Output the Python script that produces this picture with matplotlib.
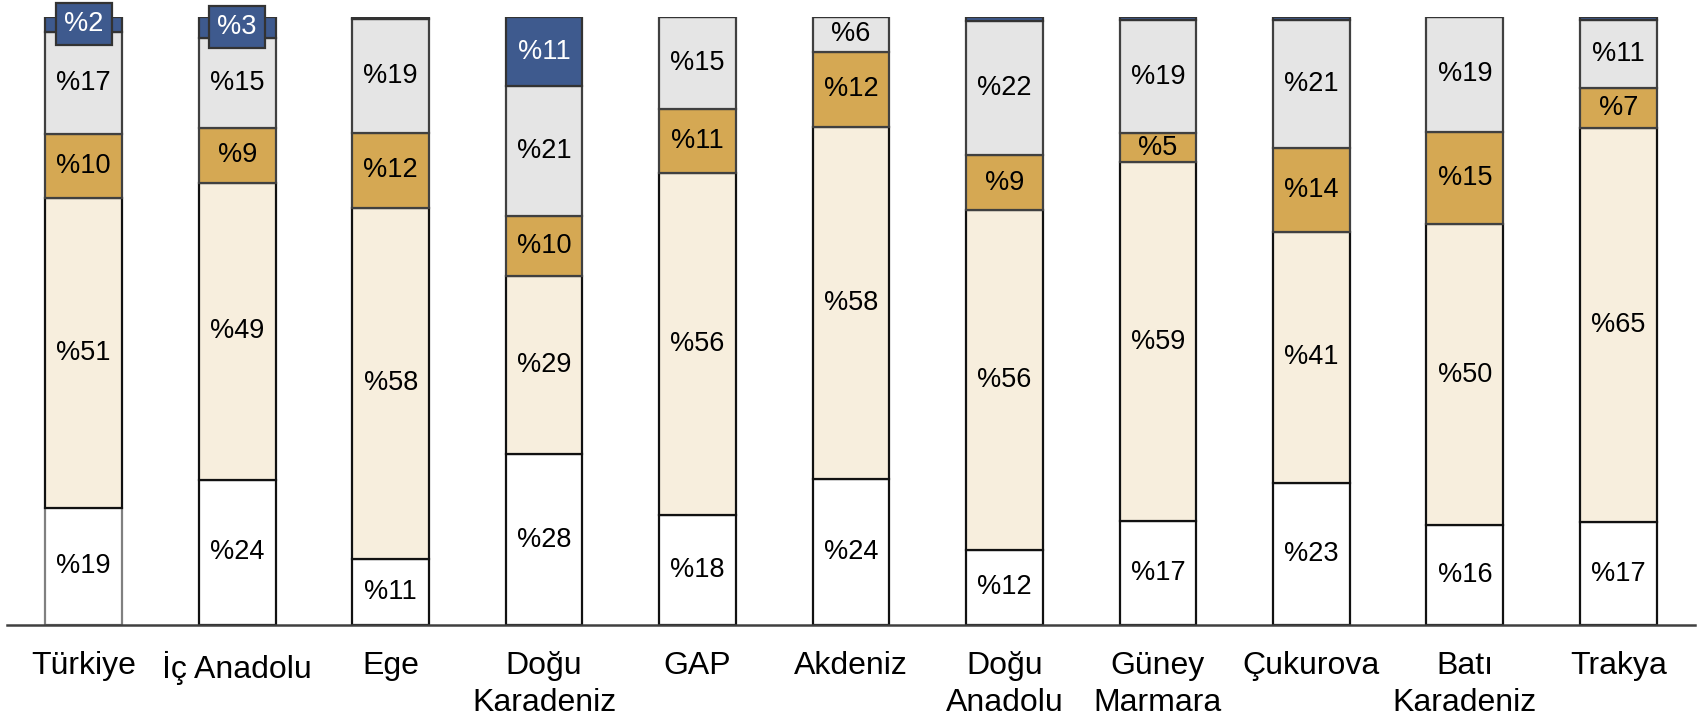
import matplotlib
matplotlib.use("Agg")
import matplotlib.pyplot as plt
import numpy as np

plt.rcParams['font.family'] = ['Liberation Sans', 'DejaVu Sans']

categories = ["Türkiye", "İç Anadolu", "Ege", "Doğu\nKaradeniz", "GAP", "Akdeniz",
              "Doğu\nAnadolu", "Güney\nMarmara", "Çukurova", "Batı\nKaradeniz", "Trakya"]

seg1 = [19.3, 23.9, 10.9, 28.1, 18.1, 24.0, 12.4, 17.1, 23.4, 16.4, 16.9]   # white
seg2 = [51.0, 48.8, 57.7, 29.3, 56.2, 57.9, 55.8, 59.0, 41.2, 49.6, 64.8]   # light beige
seg3 = [10.4, 9.1, 12.4, 9.8, 10.6, 12.4, 9.1, 4.8, 13.9, 15.1, 6.6]        # gold
seg4 = [16.9, 14.8, 18.7, 21.4, 15.1, 5.7, 22.1, 18.6, 21.0, 18.9, 11.2]    # light gray
seg5 = [2.4, 3.4, 0.3, 11.4, 0.0, 0.0, 0.6, 0.5, 0.5, 0.0, 0.5]             # dark blue

series = [seg1, seg2, seg3, seg4, seg5]
fills = ['#FFFFFF', '#F7EEDD', '#D5A853', '#E5E5E5', '#3E5A8E']
edges = ['#111111', '#111111', '#404040', '#404040', '#333333']
text_colors = ['black', 'black', 'black', 'black', 'white']

fig = plt.figure(figsize=(17.02, 7.17), dpi=100)
ax = fig.add_axes([7/1702, 1 - 625/717, (1695 - 7)/1702, (625 - 17)/717])

x = np.arange(len(categories))
width = 0.5
bottom = np.zeros(len(categories))
for k, vals in enumerate(series):
    vals = np.array(vals)
    ec = [edges[k]] * len(categories)
    if k == 0:
        ec[0] = '#808080'
    ax.bar(x, vals, width, bottom=bottom, color=fills[k], edgecolor=ec,
           linewidth=1.6, zorder=2)
    for i, v in enumerate(vals):
        if v >= 1.5:
            yc = bottom[i] + v / 2
            kw = {}
            if k == 4 and v < 5:
                kw['bbox'] = dict(boxstyle='square,pad=0.3', facecolor=fills[k],
                                  edgecolor='#333333', linewidth=1.6)
            ax.text(x[i], yc, f"%{round(v)}", ha='center', va='center',
                    fontsize=19.5, color=text_colors[k], zorder=5, clip_on=False, **kw)
    bottom += vals

ax.set_xlim(-0.5, 10.5)
ax.set_ylim(0, 100)
for s in ['top', 'right', 'left']:
    ax.spines[s].set_visible(False)
ax.spines['bottom'].set_color('#404040')
ax.spines['bottom'].set_linewidth(1.8)
ax.spines['bottom'].set_zorder(3)
ax.set_yticks([])
ax.set_xticks(x)
ax.set_xticklabels(categories, fontsize=23, linespacing=1.28)
ax.tick_params(axis='x', length=0, pad=19)

fig.savefig("out.png", dpi=100)
